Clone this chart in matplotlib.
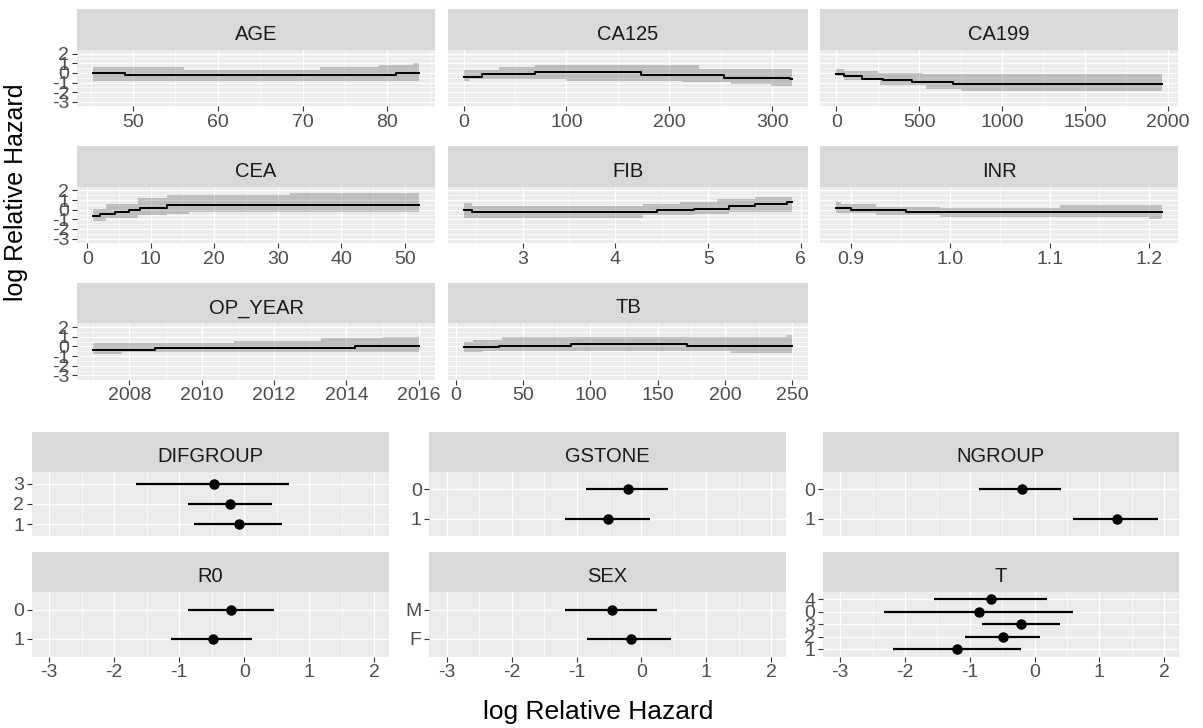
import numpy as np
import matplotlib
matplotlib.use('Agg')
import matplotlib.pyplot as plt

plt.rcParams['font.family'] = ['Liberation Sans', 'DejaVu Sans']
plt.rcParams['axes.unicode_minus'] = False

# ---- continuous predictors: step grid, estimate, lower, upper ----
age_x = [45.3, 49, 56, 72, 79, 81, 83, 83.7]
age_y = [0, -0.2, -0.2, -0.2, -0.2, 0, 0]
age_lo = [-0.85, -0.85, -0.85, -0.85, -0.85, -0.85, -0.85]
age_hi = [0.6, 0.6, 0.3, 0.6, 0.8, 0.8, 1.0]

ca125_x = [0.8, 5.5, 17.5, 34, 69, 99.5, 173, 212, 228.5, 253.6, 260, 299, 317, 319]
ca125_y = [-0.4, -0.4, -0.15, -0.15, 0.1, 0.1, -0.25, -0.25, -0.25, -0.5, -0.5, -0.5, -0.65]
ca125_lo = [-0.85, -0.65, -0.65, -0.65, -0.65, -0.85, -0.85, -0.95, -0.95, -0.95, -1.1, -1.35, -1.35]
ca125_hi = [0.35, 0.35, 0.35, 0.6, 0.8, 0.8, 0.8, 0.8, 0.45, 0.45, 0.45, 0.45, 0.45]

ca199_x = [0, 44, 154, 254, 264, 284, 454, 524, 544, 704, 754, 1964]
ca199_y = [-0.14, -0.34, -0.59, -0.59, -0.59, -0.76, -0.93, -0.93, -0.93, -1.1, -1.1]
ca199_lo = [-0.34, -0.76, -0.76, -0.76, -1.28, -1.28, -1.28, -1.28, -1.62, -1.62, -1.86]
ca199_hi = [0.45, 0.2, 0.2, 0.03, 0.03, 0.03, 0.03, -0.14, -0.14, -0.14, -0.14]

cea_x = [0.95, 2.0, 3.0, 4.4, 6.5, 8.0, 8.3, 12.5, 16, 32, 52.2]
cea_y = [-0.7, -0.49, -0.49, -0.25, -0.07, -0.07, 0.18, 0.46, 0.46, 0.46]
cea_lo = [-1.13, -1.13, -0.85, -0.85, -0.85, -0.6, -0.6, -0.42, -0.25, -0.25]
cea_hi = [0.1, 0.1, 0.63, 0.63, 0.63, 1.16, 1.16, 1.5, 1.5, 1.7]

fib_x = [2.37, 2.45, 4.3, 4.45, 4.7, 4.85, 5.1, 5.22, 5.5, 5.85, 5.9]
fib_y = [-0.07, -0.25, -0.25, -0.07, -0.07, 0.1, 0.1, 0.35, 0.56, 0.81]
fib_lo = [-0.85, -0.85, -0.6, -0.6, -0.6, -0.42, -0.42, -0.25, -0.25, -0.25]
fib_hi = [0.7, 0.35, 0.56, 0.56, 0.81, 0.81, 1.06, 1.06, 1.34, 1.34]

inr_x = [0.885, 0.89, 0.9, 0.925, 0.955, 0.99, 1.11, 1.2, 1.213]
inr_y = [0.18, 0.18, -0.07, -0.07, -0.25, -0.25, -0.25, -0.25]
inr_lo = [-0.35, -0.35, -0.35, -0.6, -0.6, -0.8, -0.8, -1.0]
inr_hi = [0.8, 0.6, 0.6, 0.28, 0.28, 0.2, 0.45, 0.45]

opyear_x = [2007, 2007.8, 2008.7, 2010.9, 2013.3, 2014.25, 2015, 2016]
opyear_y = [-0.35, -0.35, -0.21, -0.21, -0.21, 0, 0]
opyear_lo = [-0.8, -0.6, -0.6, -0.6, -0.6, -0.6, -0.6]
opyear_hi = [0.35, 0.35, 0.35, 0.6, 0.84, 0.84, 0.94]

tb_x = [6.5, 13, 20.7, 32, 34.5, 85.7, 172, 204.4, 245.6, 249.4]
tb_y = [-0.1, -0.1, -0.1, 0.07, 0.07, 0.24, 0.07, 0.07, 0.07]
tb_lo = [-0.63, -0.63, -0.45, -0.45, -0.45, -0.45, -0.45, -0.73, -0.73]
tb_hi = [0.42, 0.66, 0.66, 0.66, 0.94, 0.94, 0.94, 0.94, 1.19]

cont_names = ['AGE', 'CA125', 'CA199', 'CEA', 'FIB', 'INR', 'OP_YEAR', 'TB']
cont_ticks = [[50, 60, 70, 80], [0, 100, 200, 300], [0, 500, 1000, 1500, 2000],
              [0, 10, 20, 30, 40, 50], [3, 4, 5, 6], [0.9, 1.0, 1.1, 1.2],
              [2008, 2010, 2012, 2014, 2016], [0, 50, 100, 150, 200, 250]]
cont_labels = [['50', '60', '70', '80'], ['0', '100', '200', '300'],
               ['0', '500', '1000', '1500', '2000'], ['0', '10', '20', '30', '40', '50'],
               ['3', '4', '5', '6'], ['0.9', '1.0', '1.1', '1.2'],
               ['2008', '2010', '2012', '2014', '2016'], ['0', '50', '100', '150', '200', '250']]
cont_data = [(age_x, age_y, age_lo, age_hi), (ca125_x, ca125_y, ca125_lo, ca125_hi),
             (ca199_x, ca199_y, ca199_lo, ca199_hi), (cea_x, cea_y, cea_lo, cea_hi),
             (fib_x, fib_y, fib_lo, fib_hi), (inr_x, inr_y, inr_lo, inr_hi),
             (opyear_x, opyear_y, opyear_lo, opyear_hi), (tb_x, tb_y, tb_lo, tb_hi)]

# ---- categorical predictors (levels listed top to bottom) ----
dif_lev = ['3', '2', '1']
dif_est = [-0.47, -0.22, -0.08]
dif_lo = [-1.67, -0.86, -0.77]
dif_hi = [0.69, 0.43, 0.58]

gst_lev = ['0', '1']
gst_est = [-0.2, -0.51]
gst_lo = [-0.86, -1.18]
gst_hi = [0.41, 0.13]

ngr_lev = ['0', '1']
ngr_est = [-0.2, 1.28]
ngr_lo = [-0.85, 0.6]
ngr_hi = [0.41, 1.91]

r0_lev = ['0', '1']
r0_est = [-0.2, -0.48]
r0_lo = [-0.86, -1.12]
r0_hi = [0.45, 0.12]

sex_lev = ['M', 'F']
sex_est = [-0.45, -0.16]
sex_lo = [-1.17, -0.84]
sex_hi = [0.24, 0.46]

t_lev = ['4', '0', '3', '2', '1']
t_est = [-0.67, -0.85, -0.21, -0.49, -1.2]
t_lo = [-1.55, -2.33, -0.81, -1.08, -2.19]
t_hi = [0.2, 0.6, 0.4, 0.08, -0.21]

cat_names = ['DIFGROUP', 'GSTONE', 'NGROUP', 'R0', 'SEX', 'T']
cat_data = [(dif_lev, dif_est, dif_lo, dif_hi), (gst_lev, gst_est, gst_lo, gst_hi),
            (ngr_lev, ngr_est, ngr_lo, ngr_hi), (r0_lev, r0_est, r0_lo, r0_hi),
            (sex_lev, sex_est, sex_lo, sex_hi), (t_lev, t_est, t_lo, t_hi)]
hz_ticks = [-3, -2, -1, 0, 1, 2]
hz_labels = ['-3', '-2', '-1', '0', '1', '2']

W, H = 1203, 728
fig = plt.figure(figsize=(W / 100, H / 100), dpi=100)

PANEL = '#EBEBEB'
STRIP = '#D9D9D9'
TXT = '#4D4D4D'


def fbox(x0, y0, x1, y1):
    return [x0 / W, 1 - y1 / H, (x1 - x0) / W, (y1 - y0) / H]


def strip(x0, y0, x1, y1, name):
    s = fig.add_axes(fbox(x0, y0, x1, y1))
    s.set_facecolor(STRIP)
    s.set_xticks([])
    s.set_yticks([])
    for sp in s.spines.values():
        sp.set_visible(False)
    s.text(0.5, 0.24, name, ha='center', va='baseline', fontsize=14.5, color='#1A1A1A',
           transform=s.transAxes)


def style(ax):
    ax.set_facecolor(PANEL)
    for sp in ax.spines.values():
        sp.set_visible(False)
    ax.set_axisbelow(True)
    ax.grid(which='major', color='white', lw=1.0)
    ax.grid(which='minor', color='white', lw=0.5)
    ax.tick_params(which='major', length=3.5, width=0.8, color='#333333',
                   labelcolor=TXT, labelsize=14, pad=2)
    ax.tick_params(which='minor', length=0)


def minor_of(ticks, lo, hi):
    step = ticks[1] - ticks[0]
    mids = [t - step / 2 for t in ticks] + [ticks[-1] + step / 2]
    return [m for m in mids if lo <= m <= hi]


# ---- top block: continuous predictors ----
top_cols = [(77, 435), (448, 808), (820, 1178)]
top_rows = [9.3, 146, 282.7]
for i, name in enumerate(cont_names):
    r, c = divmod(i, 3)
    x0, x1 = top_cols[c]
    y0 = top_rows[r]
    strip(x0, y0, x1, y0 + 40.5, name)
    ax = fig.add_axes(fbox(x0, y0 + 40.5, x1, y0 + 97))
    style(ax)
    xs, ys, los, his = cont_data[i]
    xs = np.array(xs, dtype=float)
    ext = lambda v: np.append(v, v[-1])
    ax.fill_between(xs, ext(los), ext(his), step='post', color='black', alpha=0.2, lw=0)
    ax.step(xs, ext(ys), where='post', color='black', lw=1.4)
    rng = xs[-1] - xs[0]
    xl = (xs[0] - 0.05 * rng, xs[-1] + 0.05 * rng)
    ax.set_xlim(xl)
    ax.set_ylim(-3.45, 2.4)
    ax.set_xticks(cont_ticks[i])
    ax.set_xticklabels(cont_labels[i])
    ax.set_xticks(minor_of(cont_ticks[i], *xl), minor=True)
    ax.set_yticks(hz_ticks)
    ax.set_yticks([-2.5, -1.5, -0.5, 0.5, 1.5], minor=True)
    if c == 0:
        ax.set_yticklabels(hz_labels)
    else:
        ax.tick_params(axis='y', which='major', length=0, labelleft=False)

# ---- bottom block: categorical predictors ----
bot_cols = [(31.7, 389.3), (429.3, 786), (822.7, 1179)]
bot_rows = [431.7, 552]
for i, name in enumerate(cat_names):
    r, c = divmod(i, 3)
    x0, x1 = bot_cols[c]
    y0 = bot_rows[r]
    strip(x0, y0, x1, y0 + 40, name)
    ax = fig.add_axes(fbox(x0, y0 + 40, x1, y0 + 104.5))
    style(ax)
    lev, est, lo, hi = cat_data[i]
    n = len(lev)
    ypos = np.arange(n, 0, -1)
    ax.hlines(ypos, lo, hi, color='black', lw=1.6)
    ax.plot(est, ypos, 'o', color='black', ms=6.5)
    ax.set_xlim(-3.27, 2.23)
    ax.set_ylim(0.4, n + 0.6)
    ax.set_yticks(ypos)
    ax.set_yticklabels(lev)
    ax.set_xticks(hz_ticks)
    ax.set_xticks([-2.5, -1.5, -0.5, 0.5, 1.5], minor=True)
    if r == 1:
        ax.set_xticklabels(hz_labels)
    else:
        ax.tick_params(axis='x', which='major', length=0, labelbottom=False)

fig.text(16 / W, 1 - 192 / H, 'log Relative Hazard', rotation=90, ha='center', va='center',
         fontsize=18, color='black')
fig.text(598 / W, 1 - 712 / H, 'log Relative Hazard', ha='center', va='center',
         fontsize=19, color='black')

fig.savefig('out.png', dpi=100)
